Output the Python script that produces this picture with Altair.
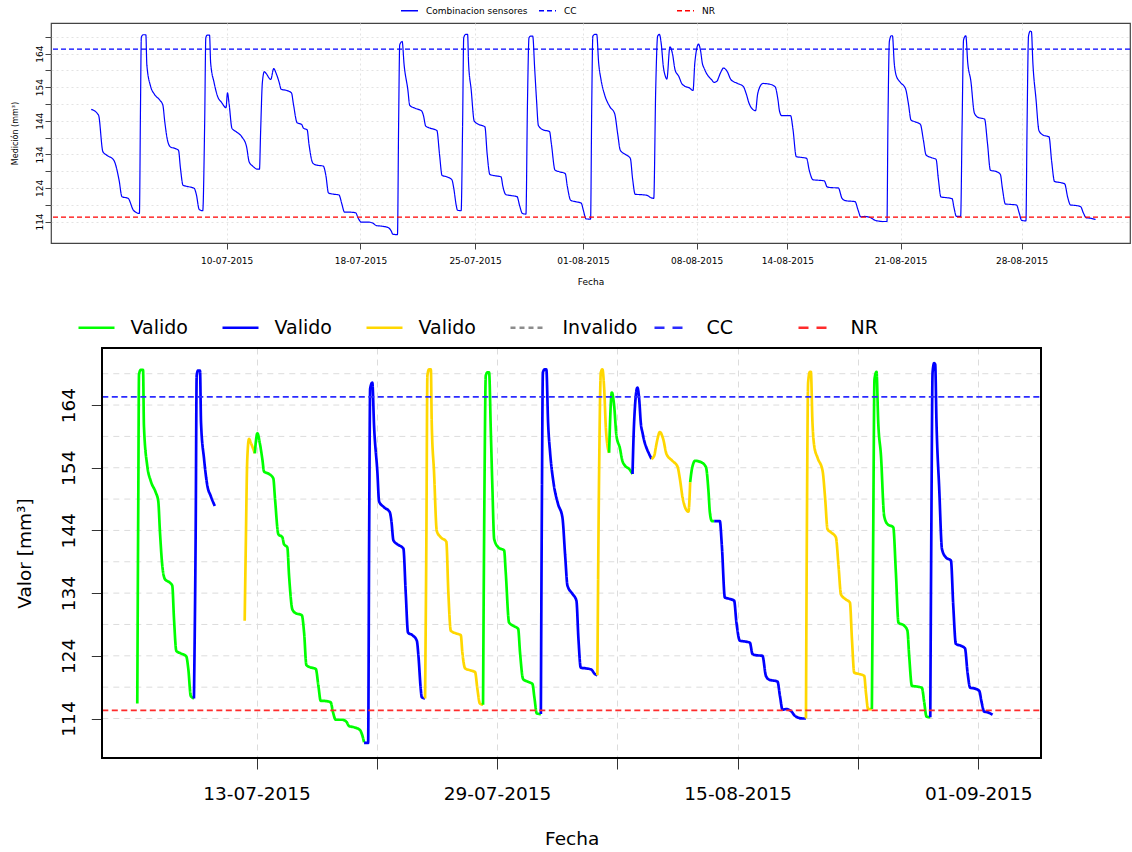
import altair as alt
import pandas as pd

FONT = "DejaVu Sans"
BASE = pd.Timestamp("2015-07-01 00:00:00")

# ---------------- data ----------------
# times are days since 01-07-2015 00:00, values in mm3

# start of the combined series (only in the upper panel)
pre_d = [0.97, 1.42, 1.69, 1.91, 2.36, 2.69, 2.87, 3.25, 3.59]
pre_v = [147.4, 145.7, 134.8, 133.8, 132.3, 126.4, 121.4, 120.9, 117.3]

# gap between cycle 2 and 3 (only in the upper panel)
gap_d = [9.31, 9.40, 9.50, 9.68, 9.95, 10.29, 10.58, 10.74, 10.96, 11.25, 11.38]
gap_v = [147.9, 152.3, 149.1, 141.7, 140.7, 139.2, 136.3, 131.8, 130.5, 129.6, 129.6]

d01 = [3.95, 4.02, 4.07, 4.19, 4.35, 4.41, 4.64, 4.88, 5.22, 5.40, 5.52, 5.68, 5.87, 6.19, 6.37, 6.49, 6.65, 6.95, 7.34, 7.48, 7.65, 7.87]
v01 = [116.4, 149.0, 168.9, 169.6, 169.6, 160.7, 154.3, 151.9, 150.1, 148.7, 143.7, 138.4, 136.2, 135.7, 135.2, 129.9, 124.8, 124.4, 123.9, 121.9, 117.6, 117.2]

d02 = [7.87, 7.99, 8.06, 8.15, 8.29, 8.36, 8.57, 8.80, 9.03, 9.31]
v02 = [117.2, 143.7, 168.7, 169.5, 169.5, 161.2, 155.4, 151.1, 149.5, 147.9]

d03 = [11.38, 11.45, 11.56, 11.68, 11.80, 12.08]
v03 = [129.6, 140.5, 155.4, 158.6, 158.0, 156.3]

d04 = [12.08, 12.26, 12.42, 12.60, 12.72, 13.07, 13.36, 13.48, 13.71, 13.99, 14.10, 14.33, 14.45, 14.68, 14.91, 15.33, 15.49,
       15.65, 15.88, 16.30, 16.48, 16.64, 16.87, 17.33, 17.49, 17.68, 18.14, 18.41, 18.60, 18.95, 19.34, 19.52, 19.64]
v04 = [156.3, 159.5, 158.0, 155.4, 153.4, 153.0, 152.3, 149.0, 143.4, 142.9, 141.8, 141.3, 136.8, 131.4, 130.8, 130.5, 127.7,
       122.5, 122.2, 121.9, 119.2, 116.8, 116.8, 116.6, 115.0, 113.8, 113.8, 113.5, 112.8, 112.6, 112.2, 111.3, 110.2]

d05 = [19.64, 19.92, 19.99, 20.06, 20.21, 20.33, 20.56, 20.68, 21.02, 21.42, 21.53, 21.67, 21.94, 22.36, 22.52, 22.68, 22.98,
       23.29, 23.40, 23.56, 23.63, 23.86]
v05 = [110.1, 110.1, 142.6, 166.6, 167.6, 160.7, 153.3, 148.6, 147.7, 146.9, 145.5, 142.4, 141.8, 141.1, 134.1, 127.7, 127.3,
       126.4, 124.0, 118.7, 117.4, 117.2]

d06 = [23.86, 23.95, 24.02, 24.14, 24.26, 24.32, 24.48, 24.67, 24.95, 25.33, 25.47, 25.64, 25.98, 26.33, 26.44, 26.63, 26.97,
       27.32, 27.48, 27.65, 27.87]
v06 = [117.2, 142.6, 168.7, 169.7, 169.7, 161.2, 153.3, 143.9, 142.9, 142.2, 134.1, 128.0, 127.6, 127.3, 124.5, 122.0, 121.7,
       121.4, 118.7, 116.4, 116.2]

d07 = [27.87, 27.96, 28.06, 28.17, 28.29, 28.41, 28.52, 28.64, 28.93, 29.33, 29.44, 29.67, 29.95, 30.30, 30.43, 30.64, 30.94,
       31.29, 31.42, 31.59, 31.87]
v07 = [116.2, 147.9, 168.7, 169.2, 169.2, 159.6, 150.6, 142.6, 141.3, 140.8, 137.3, 129.3, 128.8, 128.3, 124.5, 120.3, 119.9,
       119.5, 117.4, 114.8, 114.7]

d08 = [31.87, 31.94, 32.01, 32.14, 32.25, 32.37, 32.51, 32.74, 33.06, 33.36, 33.55, 33.71, 34.05, 34.33, 34.47, 34.63, 34.98,
       35.37, 35.56, 35.78]
v08 = [114.7, 147.9, 169.2, 169.7, 169.7, 161.2, 156.4, 151.7, 148.2, 146.1, 140.0, 135.2, 133.9, 132.8, 126.7, 122.1, 122.0,
       121.8, 121.2, 120.9]

d09 = [35.78, 35.90, 36.02, 36.13, 36.25, 36.37, 36.48, 36.59]
v09 = [120.9, 153.3, 169.2, 169.7, 166.6, 160.2, 157.5, 156.4]

d10 = [36.59, 36.78, 36.94, 37.10, 37.33, 37.51, 37.70, 37.98, 38.21]
v10 = [156.4, 166.0, 163.9, 159.1, 157.2, 155.1, 154.3, 153.8, 153.0]

d11 = [38.21, 38.32, 38.55, 38.67, 38.79, 38.90, 39.02, 39.17, 39.36, 39.52]
v11 = [153.0, 161.2, 166.8, 165.0, 161.0, 159.6, 158.3, 157.2, 156.2, 155.4]

d12 = [39.52, 39.71, 39.82, 39.94, 40.10, 40.33, 40.56, 40.97, 41.32, 41.49, 41.67, 41.90, 42.08, 42.20]
v12 = [155.4, 155.9, 157.2, 158.6, 159.7, 158.6, 156.2, 155.1, 154.2, 152.2, 149.3, 147.4, 147.0, 151.7]

d13 = [42.20, 42.32, 42.54, 42.94, 43.29, 43.47, 43.56, 43.70, 43.86]
v13 = [151.7, 153.8, 155.1, 154.9, 154.1, 150.1, 146.9, 145.5, 145.5]

d14 = [43.86, 44.25, 44.39, 44.60, 44.90, 45.24, 45.40, 45.64, 45.93, 46.33, 46.51, 46.74, 47.20, 47.44, 47.66, 48.24, 48.41,
       48.59, 48.82, 49.17, 49.46, 49.97, 50.16, 50.21]
v14 = [145.5, 145.5, 141.6, 133.3, 133.1, 132.8, 129.3, 126.4, 126.3, 126.1, 124.3, 124.1, 124.0, 120.8, 120.2, 119.9, 117.6,
       115.4, 115.5, 115.2, 114.4, 114.0, 114.0, 114.0]

d15 = [50.21, 50.27, 50.36, 50.48, 50.55, 50.66, 50.78, 51.01, 51.36, 51.54, 51.70, 51.94, 52.28, 52.46, 52.63, 52.97, 53.25,
       53.39, 53.55, 53.89, 54.24, 54.36, 54.51, 54.77]
v15 = [114.0, 142.6, 167.6, 169.3, 169.3, 161.2, 157.5, 155.6, 153.5, 149.0, 144.2, 143.7, 142.9, 138.4, 133.8, 133.0, 132.5,
       126.7, 121.3, 121.1, 120.8, 118.1, 115.5, 115.5]

d16 = [54.77, 54.86, 54.95, 55.09, 55.21, 55.40, 55.62, 55.85, 56.25, 56.43, 56.61, 57.01, 57.23, 57.35, 57.54, 57.86, 58.23,
       58.39, 58.55, 58.81]
v16 = [115.5, 142.6, 168.1, 169.3, 161.2, 155.9, 146.3, 145.0, 144.5, 137.3, 129.3, 128.8, 128.0, 124.0, 119.2, 119.1, 118.9,
       116.6, 114.3, 114.2]

d17 = [58.81, 58.88, 58.97, 59.08, 59.15, 59.24, 59.43, 59.62, 59.89, 60.24, 60.40, 60.58, 60.93, 61.21, 61.39, 61.57, 61.85,
       62.20, 62.36, 62.54, 62.77, 63.12]
v17 = [114.2, 142.6, 169.2, 170.7, 170.5, 161.2, 150.6, 141.0, 139.7, 139.2, 132.0, 125.9, 125.6, 125.2, 121.3, 118.9, 118.8,
       118.4, 116.6, 115.1, 115.0, 114.6]

# colour class of every valid cycle (v1 green, v2 blue, v3 gold)
seg_class = ["v1", "v2", "v3", "v1", "v2", "v3", "v1", "v2", "v3", "v1", "v2", "v3", "v1", "v2", "v3", "v1", "v2"]
seg_days = [d01, d02, d03, d04, d05, d06, d07, d08, d09, d10, d11, d12, d13, d14, d15, d16, d17]
seg_vals = [v01, v02, v03, v04, v05, v06, v07, v08, v09, v10, v11, v12, v13, v14, v15, v16, v17]

CC = 165.3
NR = 115.3

TOP_TICKS = [9.35, 17.63, 24.72, 31.40, 38.43, 44.05, 51.05, 58.54]
BOT_TICKS = [12.20, 20.51, 28.84, 37.17, 45.48, 53.79, 62.13]
Y_TICKS = [114, 119, 124, 129, 134, 139, 144, 149, 154, 159, 164, 169]

TOP_XDOM = [-1.52, 65.25]
BOT_XDOM = [1.53, 66.47]
TOP_YDOM = [107.6, 173.1]
BOT_YDOM = [107.7, 173.1]

SERIES_KEYS = ["v1", "v2", "v3", "inv", "CC", "NR"]
SERIES_COLORS = ["#00ff00", "#0000ff", "#ffd700", "#8c8c8c", "#2b2bff", "#ff2b2b"]
SERIES_DASH = [[1, 0], [1, 0], [1, 0], [5, 4], [10, 8], [10, 8]]
SERIES_WIDTH = [2.7, 2.7, 2.7, 1.3, 2.7, 2.7]

TOP_KEYS = ["Combinacion sensores", "CC", "NR"]
TOP_COLORS = ["#0000ff", "#0000ff", "#ff0000"]
TOP_DASH = [[1, 0], [5, 3], [5, 3]]

# ---------------- layout (pixels) ----------------
TOP_W, TOP_H = 1079, 220
BOT_W, BOT_H = 990, 410
BOT_LEFT = 51.3          # empty band left of the lower plot frame (room for its axis)


# ---------------- helpers ----------------
def when(d):
    return (BASE + pd.Timedelta(days=float(d))).round("s")


def dt(d):
    ts = when(d)
    return alt.DateTime(year=ts.year, month=ts.month, date=ts.day,
                        hours=ts.hour, minutes=ts.minute, seconds=ts.second)


rows = []
for i, (ds, vs, cls) in enumerate(zip(seg_days, seg_vals, seg_class)):
    for d, v in zip(ds, vs):
        rows.append({"fecha": when(d), "valor": v, "seg": i, "serie": cls})
bot_df = pd.DataFrame(rows)

trows = []
for ds, vs in [(pre_d, pre_v), (gap_d, gap_v)] + list(zip(seg_days, seg_vals)):
    for d, v in zip(ds, vs):
        trows.append({"fecha": when(d), "valor": v, "serie_top": "Combinacion sensores"})
top_df = (pd.DataFrame(trows).sort_values("fecha")
          .drop_duplicates(subset="fecha").reset_index(drop=True))

ref_bot = pd.DataFrame({"serie": ["CC", "NR"], "valor": [CC, NR]})
ref_top = pd.DataFrame({"serie_top": ["CC", "NR"], "valor": [CC, NR]})
grid_df = pd.DataFrame({"valor": Y_TICKS})

# ---------------- upper panel ----------------
top_legend = alt.Legend(
    orient="none", legendX=349, legendY=-22, direction="horizontal", columns=3,
    gridAlign="all", columnPadding=8, symbolType="stroke", symbolSize=289,
    symbolStrokeWidth=1.3, labelFontSize=9, labelFont=FONT, labelOffset=7,
    labelLimit=0, title=None,
)
top_color = alt.Color("serie_top:N", scale=alt.Scale(domain=TOP_KEYS, range=TOP_COLORS), legend=top_legend)
top_dash = alt.StrokeDash("serie_top:N", scale=alt.Scale(domain=TOP_KEYS, range=TOP_DASH), legend=top_legend)

top_x = alt.X(
    "fecha:T",
    scale=alt.Scale(domain=[dt(TOP_XDOM[0]), dt(TOP_XDOM[1])], nice=False),
    axis=alt.Axis(
        values=[dt(d) for d in TOP_TICKS], format="%d-%m-%Y", title="Fecha",
        labelFontSize=9, titleFontSize=9, titleFontWeight="normal", tickSize=6,
        labelPadding=7, titlePadding=12, domain=False, tickColor="#444",
        grid=True, gridDash=[2, 3], gridColor="#e3e3e3", labelOverlap=False, labelFlush=False,
    ),
)
top_y = alt.Y(
    "valor:Q",
    scale=alt.Scale(domain=TOP_YDOM, nice=False, zero=False),
    axis=alt.Axis(
        values=Y_TICKS, labelExpr="(datum.value - 114) % 10 == 0 ? datum.label : ''",
        labelAngle=270, labelAlign="center", labelBaseline="bottom", labelFontSize=9,
        title="Medición (mm³)", titleFontSize=8, titleFontWeight="normal", titlePadding=16,
        tickSize=6, labelPadding=1, domain=False, tickColor="#444",
        grid=True, gridDash=[2, 3], gridColor="#e3e3e3", labelOverlap=False,
    ),
)

top_line = alt.Chart(top_df).mark_line(strokeWidth=1.2, interpolate="monotone").encode(
    x=top_x, y=top_y, color=top_color, strokeDash=top_dash, order="fecha:T"
)
top_rules = alt.Chart(ref_top).mark_rule(strokeWidth=1.3, strokeDash=[5, 3]).encode(
    y=top_y, color=top_color
)
top = alt.layer(top_line, top_rules).properties(
    width=TOP_W, height=TOP_H, view=alt.ViewBackground(stroke="#444", strokeWidth=1.2)
)

# ---------------- lower panel ----------------
bot_legend = alt.Legend(
    orient="none", legendX=26, legendY=-40, direction="horizontal", columns=6,
    gridAlign="all", columnPadding=11, symbolType="stroke", symbolSize=1296,
    labelFontSize=19, labelFont=FONT, labelOffset=14.5,
    labelLimit=0, title=None,
    labelExpr="datum.label == 'inv' ? 'Invalido' : ((datum.label == 'CC' || datum.label == 'NR') ? datum.label : 'Valido')",
)
bot_color = alt.Color("serie:N", scale=alt.Scale(domain=SERIES_KEYS, range=SERIES_COLORS), legend=bot_legend)
bot_dash = alt.StrokeDash("serie:N", scale=alt.Scale(domain=SERIES_KEYS, range=SERIES_DASH), legend=bot_legend)
bot_width = alt.StrokeWidth("serie:N", scale=alt.Scale(domain=SERIES_KEYS, range=SERIES_WIDTH), legend=bot_legend)

bot_x = alt.X(
    "fecha:T",
    scale=alt.Scale(domain=[dt(BOT_XDOM[0]), dt(BOT_XDOM[1])], nice=False, range=[BOT_LEFT, BOT_W]),
    axis=alt.Axis(
        values=[dt(d) for d in BOT_TICKS],
        labelExpr="round(datum.index * 6) % 2 == 0 ? timeFormat(datum.value, '%d-%m-%Y') : ''",
        title="Fecha", labelFontSize=18.5, titleFontSize=18.5, titleFontWeight="normal",
        tickSize=11, labelPadding=15, titlePadding=27, domain=False, tickColor="#333",
        grid=True, gridDash=[6, 5], gridColor="#dcdcdc", labelOverlap=False, labelFlush=False,
    ),
)
bot_y = alt.Y(
    "valor:Q",
    scale=alt.Scale(domain=BOT_YDOM, nice=False, zero=False),
    axis=alt.Axis(
        values=Y_TICKS, labelExpr="(datum.value - 114) % 10 == 0 ? datum.label : ''",
        labelAngle=270, labelAlign="center", labelBaseline="bottom", labelFontSize=18.5,
        title="Valor [mm³]", titleFontSize=18.5, titleFontWeight="normal", titlePadding=25,
        tickSize=11, labelPadding=13, domain=False, tickColor="#333", offset=-BOT_LEFT,
        grid=False, labelOverlap=False,
    ),
)
x_lo = alt.datum(dt(BOT_XDOM[0]))
x_hi = alt.datum(dt(BOT_XDOM[1]))

bot_grid = alt.Chart(grid_df).mark_rule(strokeWidth=1, strokeDash=[6, 5], color="#dcdcdc").encode(
    y=bot_y, x=x_lo, x2=x_hi
)
bot_lines = alt.Chart(bot_df).mark_line(interpolate="monotone").encode(
    x=bot_x, y=bot_y, color=bot_color, strokeDash=bot_dash, strokeWidth=bot_width,
    detail="seg:N", order="fecha:T"
)
bot_rules = alt.Chart(ref_bot).mark_rule(strokeWidth=1.6, strokeDash=[6, 3.5]).encode(
    y=bot_y, x=x_lo, x2=x_hi, color=bot_color
)
bot_frame = alt.Chart(grid_df).mark_rect(filled=False, color="#000", strokeWidth=1.3).encode(
    x=x_lo, x2=x_hi, y=alt.datum(BOT_YDOM[0]), y2=alt.datum(BOT_YDOM[1])
)
bottom = alt.layer(bot_grid, bot_lines, bot_rules, bot_frame).properties(
    width=BOT_W, height=BOT_H, view=alt.ViewBackground(stroke="transparent", strokeWidth=0)
)

chart = (
    alt.concat(top, bottom, columns=1, spacing=21, align="none", bounds="full", center=False)
    .resolve_scale(color="independent", strokeDash="independent", strokeWidth="independent",
                   x="independent", y="independent")
    .resolve_legend(color="independent", strokeDash="independent", strokeWidth="independent")
    .properties(padding={"left": 10, "top": 0, "right": 0, "bottom": 0})
    .configure(font=FONT)
    .configure_axis(labelColor="#000", titleColor="#000", labelFont=FONT, titleFont=FONT)
)

chart.save("out.html", embed_options={"renderer": "svg", "actions": False})
